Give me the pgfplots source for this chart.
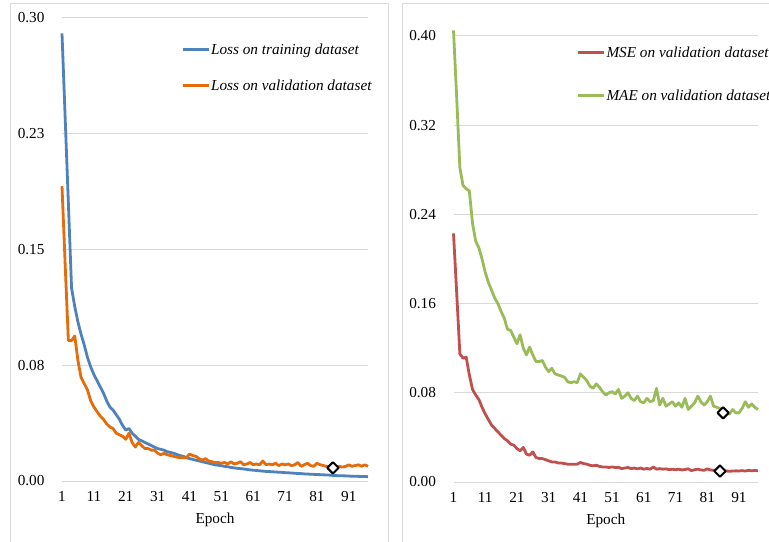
\documentclass[border=0pt]{standalone}
\usepackage{fontspec}
\setmainfont{Liberation Serif}
\usepackage{pgfplots}
\usepackage{pgfplotstable}
\pgfplotsset{compat=1.18}

\definecolor{tblue}{HTML}{4F81BD}
\definecolor{vorange}{HTML}{E46C0A}
\definecolor{mred}{HTML}{C0504D}
\definecolor{mgreen}{HTML}{9BBB59}
\definecolor{gridgray}{HTML}{D9D9D9}

% loss on training / validation dataset
\pgfplotstableread{
epoch train val
1 0.290 0.191
2 0.235 0.140
3 0.180 0.091
4 0.125 0.091
5 0.113 0.094
6 0.103 0.078
7 0.095 0.067
8 0.088 0.063
9 0.080 0.059
10 0.074 0.052
11 0.069 0.048
12 0.065 0.045
13 0.061 0.042
14 0.057 0.040
15 0.052 0.037
16 0.048 0.035
17 0.046 0.034
18 0.043 0.031
19 0.040 0.030
20 0.036 0.029
21 0.033 0.027
22 0.034 0.031
23 0.031 0.025
24 0.029 0.022
25 0.027 0.025
26 0.026 0.023
27 0.025 0.021
28 0.024 0.021
29 0.023 0.020
30 0.022 0.020
31 0.021 0.018
32 0.0205 0.017
33 0.020 0.018
34 0.019 0.017
35 0.0185 0.0165
36 0.018 0.016
37 0.0172 0.0155
38 0.0165 0.015
39 0.016 0.015
40 0.0152 0.015
41 0.0145 0.0175
42 0.014 0.0165
43 0.0135 0.016
44 0.013 0.0145
45 0.0125 0.0135
46 0.012 0.0145
47 0.0115 0.013
48 0.011 0.0125
49 0.0105 0.012
50 0.0102 0.012
51 0.0099 0.0115
52 0.0095 0.012
53 0.0092 0.011
54 0.0088 0.0125
55 0.0085 0.011
56 0.0082 0.0115
57 0.0080 0.0125
58 0.0078 0.0105
59 0.0075 0.011
60 0.0072 0.012
61 0.0070 0.0105
62 0.0068 0.011
63 0.0066 0.0105
64 0.0064 0.013
65 0.0062 0.0105
66 0.0061 0.011
67 0.0060 0.0105
68 0.0058 0.0115
69 0.0057 0.010
70 0.0056 0.011
71 0.0054 0.0105
72 0.0053 0.011
73 0.0052 0.010
74 0.0050 0.0105
75 0.0049 0.012
76 0.0048 0.0095
77 0.0046 0.0105
78 0.0045 0.0115
79 0.0044 0.010
80 0.0043 0.0095
81 0.0042 0.0115
82 0.0041 0.0105
83 0.0040 0.010
84 0.0039 0.0095
85 0.0038 0.009
86 0.0036 0.0085
87 0.0035 0.009
88 0.0034 0.0095
89 0.0034 0.009
90 0.0033 0.0095
91 0.0032 0.0105
92 0.0031 0.0095
93 0.0031 0.0100
94 0.0030 0.0105
95 0.0029 0.0095
96 0.0029 0.0105
97 0.0028 0.0095
}\losstab

% MSE / MAE on validation dataset
\pgfplotstableread{
epoch mse mae
1 0.223 0.405
2 0.170 0.345
3 0.115 0.282
4 0.111 0.266
5 0.112 0.263
6 0.096 0.261
7 0.083 0.232
8 0.078 0.216
9 0.074 0.210
10 0.067 0.200
11 0.061 0.188
12 0.056 0.179
13 0.051 0.172
14 0.048 0.165
15 0.045 0.160
16 0.042 0.153
17 0.039 0.147
18 0.037 0.137
19 0.034 0.136
20 0.033 0.130
21 0.030 0.124
22 0.028 0.132
23 0.031 0.120
24 0.025 0.114
25 0.024 0.121
26 0.027 0.114
27 0.022 0.108
28 0.021 0.108
29 0.021 0.109
30 0.020 0.103
31 0.019 0.099
32 0.018 0.102
33 0.018 0.097
34 0.017 0.096
35 0.017 0.095
36 0.0165 0.094
37 0.016 0.090
38 0.016 0.089
39 0.016 0.090
40 0.016 0.089
41 0.0175 0.097
42 0.0165 0.094
43 0.016 0.091
44 0.015 0.086
45 0.0145 0.084
46 0.015 0.088
47 0.014 0.085
48 0.0135 0.081
49 0.0135 0.078
50 0.013 0.080
51 0.0135 0.081
52 0.013 0.079
53 0.0132 0.083
54 0.012 0.075
55 0.0125 0.077
56 0.013 0.080
57 0.012 0.075
58 0.0125 0.073
59 0.0118 0.077
60 0.0125 0.072
61 0.0115 0.071
62 0.0122 0.075
63 0.0115 0.072
64 0.0135 0.073
65 0.0115 0.084
66 0.012 0.069
67 0.0115 0.075
68 0.0118 0.068
69 0.011 0.070
70 0.0115 0.072
71 0.011 0.068
72 0.0115 0.071
73 0.0108 0.067
74 0.0112 0.075
75 0.0118 0.065
76 0.0102 0.068
77 0.011 0.071
78 0.0115 0.077
79 0.0108 0.072
80 0.0105 0.069
81 0.0118 0.072
82 0.0108 0.077
83 0.0105 0.068
84 0.010 0.067
85 0.0098 0.066
86 0.0096 0.062
87 0.0098 0.062
88 0.0097 0.061
89 0.0098 0.065
90 0.010 0.062
91 0.0099 0.062
92 0.0102 0.066
93 0.0098 0.072
94 0.0105 0.067
95 0.010 0.070
96 0.0104 0.067
97 0.0100 0.065
}\errtab

\pgfplotsset{
  panel/.style={
    scale only axis,
    xmin=1, xmax=97, ymin=0,
    axis line style={draw=none},
    major tick length=0pt,
    ymajorgrids,
    grid style={gridgray, line width=1bp},
    xtick={1,11,...,91},
    /pgf/number format/assume math mode=true,
    tick label style={font=\fontsize{15.3}{18}\selectfont},
    xticklabel style={yshift=-7bp},
    yticklabel style={xshift=-14bp},
    xlabel={Epoch},
    xlabel style={at={(axis description cs:0.5,0)}, anchor=center,
      yshift=-39bp, font=\fontsize{15.3}{18}\selectfont},
    legend style={draw=none, fill=none, inner sep=0pt, anchor=north west,
      font=\fontsize{15.3}{18}\selectfont\itshape,
      nodes={inner sep=1bp}, cells={anchor=west}},
    legend image code/.code={\draw[#1] (0bp,0bp) -- (26bp,0bp);},
    every axis plot/.append style={line width=2.8bp, line join=round},
    clip=false,
  },
  best/.style={only marks, forget plot, mark=square*, mark size=4bp,
    mark options={rotate=45, draw=black, fill=white, line width=2bp}},
}

\begin{document}
\begin{tikzpicture}
\useasboundingbox (0bp,0bp) rectangle (769bp,542bp);
\draw[gridgray, line width=1bp] (10.5bp,-10bp) rectangle (388bp,538bp);
\draw[gridgray, line width=1bp] (402bp,-10bp) rectangle (790bp,538bp);

\begin{axis}[panel,
  at={(62bp,61bp)}, anchor=south west,
  width=306bp, height=463bp, ymax=0.30,
  ytick={0,0.075,0.15,0.225,0.30},
  yticklabels={0.00,0.08,0.15,0.23,0.30},
  legend style={at={(0.389,0.947)}, row sep=22bp}]
\addplot[tblue] table[x=epoch, y=train] {\losstab};
\addplot[vorange] table[x=epoch, y=val] {\losstab};
\addplot[best] coordinates {(86,0.0085)};
\legend{Loss on training dataset, Loss on validation dataset}
\end{axis}

\begin{axis}[panel,
  at={(453.5bp,60bp)}, anchor=south west,
  width=304.5bp, height=446bp, ymax=0.40,
  ytick={0,0.08,0.16,0.24,0.32,0.40},
  yticklabels={0.00,0.08,0.16,0.24,0.32,0.40},
  legend style={at={(0.404,0.979)}, row sep=29bp}]
\addplot[mred] table[x=epoch, y=mse] {\errtab};
\addplot[mgreen] table[x=epoch, y=mae] {\errtab};
\addplot[best] coordinates {(85,0.0098)};
\addplot[best] coordinates {(86,0.062)};
\legend{MSE on validation dataset, MAE on validation dataset}
\end{axis}
\end{tikzpicture}
\end{document}
